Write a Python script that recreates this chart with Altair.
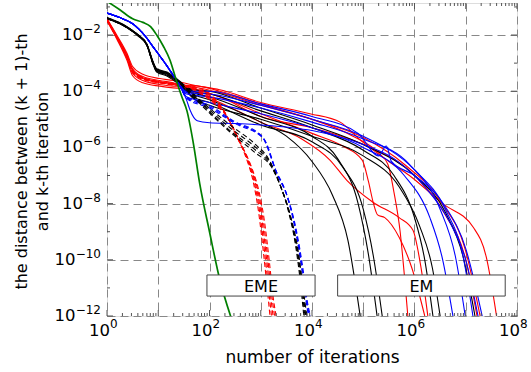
import altair as alt
import pandas as pd

# ---- data: curves as (log10 iterations, log10 distance) control points ----
red_em = [
    [(0,-1.42),(0.19,-2.0),(0.39,-2.65),(0.5,-3.12),(0.7,-3.4),(1.03,-3.55),(1.29,-3.62),(1.68,-3.78),(2.2,-3.95),(3.0,-4.4),(3.96,-4.8),(4.55,-5.1),(4.95,-5.75),(5.5,-6.5),(5.9,-7.0),(6.55,-8.0),(7.15,-8.85),(7.4,-9.9),(7.6,-12.0)],
    [(0,-1.46),(0.19,-2.07),(0.39,-2.76),(0.5,-3.26),(0.7,-3.55),(1.03,-3.7),(1.29,-3.76),(1.68,-3.85),(2.2,-4.05),(3.0,-4.5),(4.0,-5.0),(4.8,-5.6),(5.3,-6.2),(5.48,-6.6),(5.6,-7.6),(5.72,-9.0),(5.8,-10.5),(5.87,-12.0)],
    [(0,-1.5),(0.19,-2.14),(0.39,-2.9),(0.5,-3.45),(0.7,-3.7),(1.03,-3.82),(1.29,-3.88),(1.68,-3.92),(2.2,-4.2),(3.0,-4.8),(4.0,-5.5),(4.6,-5.95),(4.98,-6.45),(5.1,-7.2),(5.2,-8.0),(5.28,-8.4),(5.42,-8.5),(5.7,-9.2),(5.95,-10.3),(6.2,-12.0)],
    [(0,-1.44),(0.19,-2.04),(0.39,-2.72),(0.5,-3.2),(0.7,-3.48),(1.03,-3.62),(1.29,-3.7),(1.68,-4.0),(2.2,-4.4),(3.0,-5.1),(3.8,-5.7),(4.35,-6.45),(4.68,-7.17),(5.19,-7.95),(5.7,-8.5),(5.97,-8.95),(6.12,-10.2),(6.26,-12.0)],
    [(0,-1.48),(0.19,-2.1),(0.39,-2.84),(0.5,-3.36),(0.7,-3.62),(1.03,-3.76),(1.29,-3.82),(1.68,-3.8),(2.2,-4.0),(3.0,-4.45),(4.0,-5.0),(5.0,-5.65),(5.8,-6.6),(6.5,-7.9),(7.0,-9.7),(7.28,-12.0)],
    [(0,-1.46),(0.19,-2.05),(0.39,-2.74),(0.5,-3.23),(0.7,-3.52),(1.03,-3.66),(1.29,-3.72),(1.68,-3.9),(2.2,-4.2),(3.0,-4.9),(4.0,-5.3),(5.0,-5.9),(6.0,-7.0),(6.6,-8.4),(7.0,-10.0),(7.22,-12.0)],
]
black_em = [
    [(0,-1.4),(0.39,-1.72),(0.6,-2.0),(0.78,-2.35),(0.9,-3.0),(0.97,-3.25),(1.17,-3.38),(1.42,-3.7),(1.68,-4.1),(2.0,-4.3),(3.0,-5.1),(3.5,-5.6),(4.0,-6.5),(4.4,-7.7),(4.7,-9.3),(4.94,-12.0)],
    [(0,-1.38),(0.39,-1.7),(0.6,-1.98),(0.78,-2.33),(0.9,-2.95),(0.97,-3.2),(1.17,-3.32),(1.42,-3.64),(1.68,-4.05),(2.0,-4.2),(3.0,-4.9),(4.0,-5.6),(4.5,-6.4),(4.9,-8.0),(5.1,-9.8),(5.27,-12.0)],
    [(0,-1.42),(0.39,-1.74),(0.6,-2.02),(0.78,-2.38),(0.9,-3.05),(0.97,-3.32),(1.17,-3.46),(1.42,-3.78),(1.68,-4.2),(2.0,-4.4),(3.0,-5.2),(4.0,-5.8),(4.6,-6.7),(5.0,-8.2),(5.2,-9.9),(5.37,-12.0)],
    [(0,-1.4),(0.39,-1.72),(0.6,-2.0),(0.78,-2.36),(0.9,-3.0),(0.97,-3.26),(1.17,-3.36),(1.42,-3.66),(1.68,-4.0),(2.0,-4.1),(3.0,-4.7),(4.0,-5.3),(5.0,-6.1),(5.6,-7.0),(6.0,-8.5),(6.2,-10.0),(6.36,-12.0)],
    [(0,-1.41),(0.39,-1.73),(0.6,-2.01),(0.78,-2.37),(0.9,-3.02),(0.97,-3.29),(1.17,-3.42),(1.42,-3.74),(1.68,-4.25),(2.0,-4.5),(3.0,-5.0),(4.0,-5.6),(5.0,-6.3),(5.7,-7.4),(6.1,-8.8),(6.35,-10.3),(6.5,-12.0)],
    [(0,-1.39),(0.39,-1.71),(0.6,-1.99),(0.78,-2.34),(0.9,-2.98),(0.97,-3.22),(1.17,-3.34),(1.42,-3.7),(1.68,-3.95),(2.0,-4.0),(3.0,-4.6),(4.0,-5.2),(5.0,-5.9),(6.0,-7.0),(6.6,-8.3),(6.95,-9.9),(7.18,-12.0)],
]
blue_em = [
    [(0,-1.22),(0.25,-1.38),(0.5,-1.6),(0.75,-2.05),(0.9,-2.42),(1.17,-3.1),(1.42,-3.8),(1.55,-4.2),(2.0,-4.4),(3.0,-4.8),(4.0,-5.3),(5.0,-6.0),(5.8,-7.0),(6.3,-8.5),(6.55,-10.0),(6.75,-12.0)],
    [(0,-1.22),(0.25,-1.38),(0.5,-1.6),(0.75,-2.05),(0.9,-2.42),(1.17,-3.1),(1.42,-3.78),(1.55,-4.1),(2.0,-4.2),(3.0,-4.6),(4.0,-5.1),(5.0,-5.7),(5.9,-6.6),(6.5,-8.2),(6.8,-9.9),(6.99,-12.0)],
    [(0,-1.22),(0.25,-1.38),(0.5,-1.6),(0.75,-2.05),(0.9,-2.42),(1.17,-3.1),(1.42,-3.76),(1.55,-4.05),(2.0,-4.1),(3.0,-4.5),(4.0,-5.0),(5.0,-5.6),(6.0,-6.8),(6.6,-8.2),(6.95,-9.9),(7.14,-12.0)],
    [(0,-1.22),(0.25,-1.38),(0.5,-1.6),(0.75,-2.05),(0.9,-2.42),(1.17,-3.1),(1.42,-3.82),(1.55,-4.3),(1.62,-4.67),(1.76,-5.05),(2.0,-5.12),(2.5,-5.15),(3.0,-5.2),(4.0,-5.4),(5.0,-5.9),(5.6,-6.4),(6.2,-7.4),(6.7,-8.7),(7.0,-10.0),(7.24,-12.0)],
    [(0,-1.22),(0.25,-1.38),(0.5,-1.6),(0.75,-2.05),(0.9,-2.42),(1.17,-3.1),(1.42,-3.8),(1.55,-4.0),(2.0,-4.0),(3.0,-4.45),(4.0,-4.9),(4.9,-5.5),(5.3,-6.3),(5.45,-5.95),(5.55,-6.5),(6.0,-7.0),(6.6,-8.1),(7.0,-9.6),(7.32,-12.0)],
]
red_eme = [
    [(0,-1.46),(0.19,-2.07),(0.39,-2.78),(0.5,-3.3),(0.7,-3.55),(1.03,-3.68),(1.29,-3.76),(1.6,-3.8),(2.0,-4.1),(2.25,-4.6),(2.5,-5.5),(2.7,-6.3),(2.85,-7.2),(2.95,-8.2),(3.05,-9.7),(3.12,-10.9),(3.18,-12.0)],
    [(0,-1.44),(0.19,-2.04),(0.39,-2.74),(0.5,-3.26),(0.7,-3.5),(1.03,-3.66),(1.29,-3.74),(1.6,-3.82),(2.0,-4.15),(2.28,-4.7),(2.53,-5.6),(2.73,-6.4),(2.88,-7.3),(2.98,-8.3),(3.08,-9.8),(3.15,-11.0),(3.21,-12.0)],
    [(0,-1.48),(0.19,-2.1),(0.39,-2.8),(0.5,-3.34),(0.7,-3.58),(1.03,-3.7),(1.29,-3.78),(1.6,-3.84),(2.0,-4.2),(2.31,-4.8),(2.56,-5.7),(2.76,-6.5),(2.91,-7.4),(3.01,-8.4),(3.11,-9.9),(3.18,-11.1),(3.24,-12.0)],
    [(0,-1.45),(0.19,-2.06),(0.39,-2.76),(0.5,-3.28),(0.7,-3.54),(1.03,-3.67),(1.29,-3.75),(1.6,-3.86),(2.0,-4.25),(2.34,-4.9),(2.59,-5.8),(2.79,-6.6),(2.94,-7.5),(3.04,-8.5),(3.14,-10.0),(3.21,-11.2),(3.27,-12.0)],
    [(0,-1.47),(0.19,-2.08),(0.39,-2.79),(0.5,-3.31),(0.7,-3.56),(1.03,-3.69),(1.29,-3.77),(1.6,-3.88),(2.0,-4.3),(2.37,-5.0),(2.62,-5.9),(2.82,-6.7),(2.97,-7.6),(3.07,-8.6),(3.17,-10.1),(3.24,-11.3),(3.3,-12.0)],
]
black_eme = [
    [(0,-1.4),(0.39,-1.72),(0.6,-2.0),(0.78,-2.35),(0.9,-3.0),(0.97,-3.25),(1.17,-3.38),(1.42,-3.7),(1.68,-4.1),(1.9,-4.45),(2.4,-5.2),(2.9,-5.9),(3.15,-6.4),(3.35,-7.2),(3.53,-8.2),(3.68,-9.5),(3.78,-10.9),(3.84,-12.0)],
    [(0,-1.41),(0.39,-1.73),(0.6,-2.01),(0.78,-2.36),(0.9,-3.02),(0.97,-3.27),(1.17,-3.39),(1.42,-3.71),(1.68,-4.13),(1.9,-4.5),(2.4,-5.3),(2.9,-6.0),(3.17,-6.5),(3.37,-7.3),(3.55,-8.3),(3.7,-9.6),(3.8,-11.0),(3.86,-12.0)],
    [(0,-1.39),(0.39,-1.71),(0.6,-1.99),(0.78,-2.34),(0.9,-2.98),(0.97,-3.24),(1.17,-3.37),(1.42,-3.69),(1.68,-4.16),(1.9,-4.55),(2.4,-5.4),(2.9,-6.1),(3.19,-6.6),(3.39,-7.4),(3.57,-8.4),(3.72,-9.7),(3.82,-11.1),(3.88,-12.0)],
    [(0,-1.42),(0.39,-1.74),(0.6,-2.02),(0.78,-2.37),(0.9,-3.04),(0.97,-3.29),(1.17,-3.41),(1.42,-3.73),(1.68,-4.2),(1.9,-4.6),(2.4,-5.45),(2.9,-6.2),(3.21,-6.7),(3.41,-7.5),(3.59,-8.5),(3.74,-9.8),(3.84,-11.2),(3.9,-12.0)],
]
blue_eme = [
    [(0,-1.22),(0.25,-1.38),(0.5,-1.6),(0.75,-2.05),(0.9,-2.42),(1.17,-3.1),(1.42,-3.8),(1.55,-4.2),(2.0,-4.5),(2.46,-5.05),(3.02,-5.6),(3.29,-6.8),(3.49,-7.6),(3.66,-8.8),(3.79,-10.2),(3.87,-11.3),(3.93,-12.0)],
    [(0,-1.22),(0.25,-1.38),(0.5,-1.6),(0.75,-2.05),(0.9,-2.42),(1.17,-3.1),(1.42,-3.8),(1.55,-4.22),(2.0,-4.55),(2.48,-5.1),(3.04,-5.65),(3.31,-6.9),(3.51,-7.7),(3.68,-8.9),(3.81,-10.3),(3.89,-11.4),(3.95,-12.0)],
    [(0,-1.22),(0.25,-1.38),(0.5,-1.6),(0.75,-2.05),(0.9,-2.42),(1.17,-3.1),(1.42,-3.8),(1.55,-4.25),(2.0,-4.6),(2.5,-5.15),(3.06,-5.7),(3.33,-7.0),(3.53,-7.8),(3.7,-9.0),(3.83,-10.4),(3.91,-11.5),(3.97,-12.0)],
]
green_curve = [(0,-0.8),(0.25,-1.1),(0.5,-1.42),(0.7,-1.55),(0.85,-1.7),(0.97,-2.0),(1.1,-2.4),(1.23,-2.9),(1.35,-3.6),(1.46,-4.2),(1.56,-4.7),(1.68,-5.8),(1.81,-7.3),(2.0,-9.0),(2.2,-10.7),(2.42,-12.05)]

box_labels = ["EME", "EM"]
box_x1 = [1.95, 4.5]
box_x2 = [4.06, 7.77]
box_y1 = [-10.54, -10.54]
box_y2 = [-11.29, -11.29]

x_label_exps = [0, 2, 4, 6, 8]
y_label_exps = [-12, -10, -8, -6, -4, -2]

# ---- build tables ----
def table(curves, name):
    rows = []
    for i, c in enumerate(curves):
        for lx, ly in c:
            rows.append({"it": 10 ** lx, "d": 10 ** ly, "id": f"{name}{i}"})
    return pd.DataFrame(rows)

boxes = pd.DataFrame({
    "label": box_labels,
    "x1": [10 ** v for v in box_x1], "x2": [10 ** v for v in box_x2],
    "y1": [10 ** v for v in box_y1], "y2": [10 ** v for v in box_y2],
    "xc": [10 ** ((a + b) / 2) for a, b in zip(box_x1, box_x2)],
    "yc": [10 ** ((a + b) / 2) for a, b in zip(box_y1, box_y2)],
})

W, H = 410, 313
XDOM = [1, 1e8]
YDOM = [1e-12, 10 ** -0.86]
FONT = "DejaVu Sans"

xscale = alt.Scale(type="log", domain=XDOM, nice=False)
yscale = alt.Scale(type="log", domain=YDOM, nice=False)

xaxis = alt.Axis(values=[10 ** k for k in range(0, 9)], labels=False, grid=True,
                 gridDash=[8, 5], gridColor="#888888", gridWidth=1, ticks=False, domain=False,
                 title="number of iterations", titleFont=FONT, titleFontSize=17,
                 titleFontWeight="normal", titleColor="black", titleY=46,
                 titleBaseline="alphabetic")
yaxis = alt.Axis(values=[10 ** k for k in range(-12, -1, 2)], labels=False, grid=True,
                 gridDash=[8, 5], gridColor="#888888", gridWidth=1, ticks=False, domain=False,
                 title=["the distance between (k + 1)-th", "and k-th iteration"],
                 titleFont=FONT, titleFontSize=16, titleFontWeight="normal", titleColor="black",
                 titleX=-86, titleY=158, titleAngle=-90, titleAlign="center",
                 titleBaseline="middle", titleLineHeight=21)

def lines(curves, name, color, dashed=False, width=1.1, axes=False):
    kw = dict(strokeWidth=width, interpolate="monotone", clip=True, color=color)
    if dashed:
        kw["strokeDash"] = [5, 3]
    if axes:
        x = alt.X("it:Q", scale=xscale, axis=xaxis)
        y = alt.Y("d:Q", scale=yscale, axis=yaxis)
    else:
        x = alt.X("it:Q", scale=xscale)
        y = alt.Y("d:Q", scale=yscale)
    return alt.Chart(table(curves, name)).mark_line(**kw).encode(x=x, y=y, detail="id:N")

l_red = lines(red_em, "rem", "#ff0000", axes=True)
l_black = lines(black_em, "kem", "#000000")
l_blue = lines(blue_em, "bem", "#0000ff")
l_red_d = lines(red_eme, "reme", "#ff0000", dashed=True)
l_blue_d = lines(blue_eme, "beme", "#0000ff", dashed=True)
l_black_d = lines(black_eme, "keme", "#000000", dashed=True)
l_green = lines([green_curve], "g", "#007f00", width=1.7)

# inward ticks (axis decoration)
x_major = pd.DataFrame({"v": [10 ** k for k in range(0, 9)]})
x_minor = pd.DataFrame({"v": [m * 10 ** k for k in range(0, 8) for m in range(2, 10)]})
y_major = pd.DataFrame({"v": [10 ** k for k in range(-12, 0, 2)]})
y_minor = pd.DataFrame({"v": [10 ** k for k in range(-11, 0, 2)]})

TC = "#555555"
def xticks(d, L):
    top = alt.Chart(d).mark_rule(color=TC, strokeWidth=1).encode(
        x=alt.X("v:Q", scale=xscale), y=alt.value(0), y2=alt.value(L))
    bot = alt.Chart(d).mark_rule(color=TC, strokeWidth=1).encode(
        x=alt.X("v:Q", scale=xscale), y=alt.value(H), y2=alt.value(H - L))
    return [top, bot]
def yticks(d, L):
    left = alt.Chart(d).mark_rule(color=TC, strokeWidth=1).encode(
        y=alt.Y("v:Q", scale=yscale), x=alt.value(0), x2=alt.value(L))
    right = alt.Chart(d).mark_rule(color=TC, strokeWidth=1).encode(
        y=alt.Y("v:Q", scale=yscale), x=alt.value(W), x2=alt.value(W - L))
    return [left, right]

tick_layers = xticks(x_major, 6) + xticks(x_minor, 3) + yticks(y_major, 6) + yticks(y_minor, 3)

# tick labels: "10" with a raised exponent
def supstr(e):
    return str(e).replace("-", "\u2212")

xl = pd.DataFrame({"v": [10 ** e for e in x_label_exps], "s": [supstr(e) for e in x_label_exps]})
x_base = alt.Chart(xl).mark_text(font=FONT, fontSize=16.5, align="right", baseline="middle",
                                 dx=3, color="black").encode(
    x=alt.X("v:Q", scale=xscale), y=alt.value(H + 15), text=alt.value("10"))
x_sup = alt.Chart(xl).mark_text(font=FONT, fontSize=12, align="left", baseline="middle",
                                dx=3, color="black").encode(
    x=alt.X("v:Q", scale=xscale), y=alt.value(H + 8), text="s:N")

SUPFS = 12
def ylabel_layers(exps, supw):
    d = pd.DataFrame({"v": [10 ** e for e in exps], "s": [supstr(e) for e in exps]})
    b = alt.Chart(d).mark_text(font=FONT, fontSize=16.5, align="right", baseline="middle",
                               color="black").encode(
        y=alt.Y("v:Q", scale=yscale), x=alt.value(-6 - supw), text=alt.value("10"))
    s = alt.Chart(d).mark_text(font=FONT, fontSize=SUPFS, align="right", baseline="middle",
                               dy=-6, color="black").encode(
        y=alt.Y("v:Q", scale=yscale), x=alt.value(-6), text="s:N")
    return [b, s]

y_short = [e for e in y_label_exps if len(str(e)) == 2]
y_long = [e for e in y_label_exps if len(str(e)) == 3]
label_layers = [x_base, x_sup] + ylabel_layers(y_short, 18) + ylabel_layers(y_long, 25.5)

rects = alt.Chart(boxes).mark_rect(fill="white", stroke="#444444", strokeWidth=1).encode(
    x=alt.X("x1:Q", scale=xscale), x2="x2:Q",
    y=alt.Y("y1:Q", scale=yscale), y2="y2:Q")
texts = alt.Chart(boxes).mark_text(font=FONT, fontSize=16, color="black",
                                   baseline="middle", align="center", dy=1).encode(
    x=alt.X("xc:Q", scale=xscale), y=alt.Y("yc:Q", scale=yscale), text="label:N")

chart = alt.layer(l_red, l_black, l_blue, l_red_d, l_blue_d, l_black_d, l_green,
                  rects, texts, *tick_layers, *label_layers).properties(
    width=W, height=H,
    autosize=alt.AutoSizeParams(type="none"),
    padding={"left": 107, "top": 3, "right": 14, "bottom": 56},
).configure_view(stroke="#555555", strokeWidth=1.5).configure(background="white")

chart.save("out.html", embed_options={"renderer": "svg", "actions": False})
